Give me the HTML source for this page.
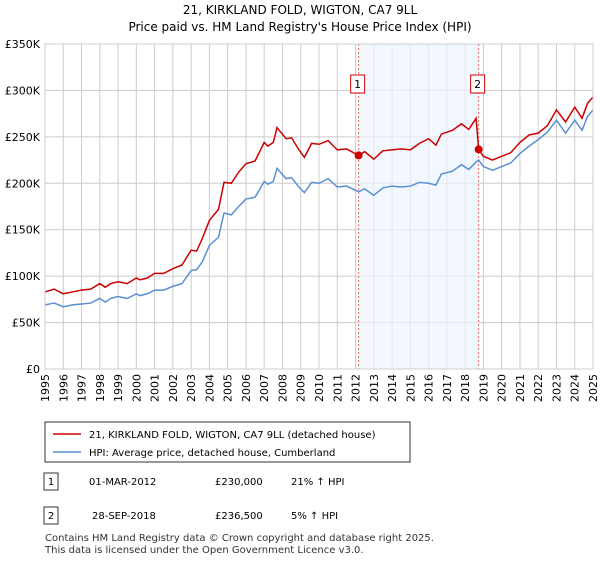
<!DOCTYPE html>
<html><head><meta charset="utf-8"><style>
body{margin:0;background:#fff;font-family:"Liberation Sans","DejaVu Sans",sans-serif;}
svg text{font-family:"DejaVu Sans","Liberation Sans",sans-serif;}
</style></head><body>
<svg width="600" height="560" viewBox="0 0 600 560">
<g id="title">
<text x="300" y="14" text-anchor="middle" font-size="12">21, KIRKLAND FOLD, WIGTON, CA7 9LL</text>
<text x="300" y="31" text-anchor="middle" font-size="12">Price paid vs. HM Land Registry's House Price Index (HPI)</text>
</g>
<g id="grid"></g>
<g id="shade"></g>
<g id="series"></g>
<g id="axes"></g>
<g>
<rect x="45" y="422" width="365" height="40" fill="#fff" stroke="#333"/>
<line x1="53" y1="434" x2="81" y2="434" stroke="#cc0000" stroke-width="1.5"/>
<text x="89" y="438" font-size="10">21, KIRKLAND FOLD, WIGTON, CA7 9LL (detached house)</text>
<line x1="53" y1="452" x2="81" y2="452" stroke="#5b8fd4" stroke-width="1.5"/>
<text x="89" y="456" font-size="10">HPI: Average price, detached house, Cumberland</text>
</g>
<g font-size="10">
<rect x="44" y="473" width="14" height="17" fill="#fff" stroke="#333"/>
<text x="51" y="485" text-anchor="middle">1</text>
<text x="89" y="485">01-MAR-2012</text><text x="215" y="485">£230,000</text><text x="291" y="485">21% ↑ HPI</text>
<rect x="44" y="507" width="14" height="17" fill="#fff" stroke="#333"/>
<text x="51" y="519" text-anchor="middle">2</text>
<text x="92" y="519">28-SEP-2018</text><text x="215" y="519">£236,500</text><text x="291" y="519">5% ↑ HPI</text>
</g>
<g font-size="10" fill="#333">
<text x="45" y="541">Contains HM Land Registry data © Crown copyright and database right 2025.</text>
<text x="45" y="553">This data is licensed under the Open Government Licence v3.0.</text>
</g>
</svg>
<script>
const years=[1995,1995.5,1996,1996.5,1997,1997.5,1998,1998.3,1998.6,1999,1999.5,2000,2000.2,2000.6,2001,2001.5,2002,2002.5,2003,2003.3,2003.6,2004,2004.5,2004.8,2005.2,2005.6,2006,2006.5,2007,2007.2,2007.5,2007.7,2008.2,2008.5,2008.9,2009.2,2009.6,2010,2010.5,2011,2011.5,2012.17,2012.5,2013,2013.5,2014,2014.5,2015,2015.5,2016,2016.4,2016.7,2017.3,2017.8,2018.2,2018.6,2018.74,2019,2019.5,2020,2020.5,2021,2021.5,2022,2022.5,2023,2023.5,2024,2024.4,2024.7,2025];
const hpi=[69,71,67,69,70,71,76,72,76,78,76,81,79,81,85,85,89,92,106,107,115,133,142,168,166,175,183,185,202,199,202,216,205,206,196,190,201,200,205,196,197,191,194,187,195,197,196,197,201,200,198,210,213,220,215,223,225,218,214,218,222,232,240,247,255,268,254,268,257,272,279];
const price=[83,86,81,83,85,86,92,88,92,94,92,98,96,98,103,103,108,112,128,127,140,160,172,201,200,212,221,224,244,240,244,260,248,249,236,228,243,242,246,236,237,230,234,226,235,236,237,236,243,248,241,253,257,264,258,270,236.5,229,225,229,233,244,252,254,262,279,266,282,270,286,293];
const yTicks=[0,50,100,150,200,250,300,350];
const yLabels=["£0","£50K","£100K","£150K","£200K","£250K","£300K","£350K"];
const sales=[2012.17,2018.74];
const saleVals=[230,236.5];
const NS="http://www.w3.org/2000/svg";
const X=y=>45+(y-1995)*(548/30), Y=v=>369-v*(325/350);
function mk(t,a,p){const e=document.createElementNS(NS,t);for(const k in a)e.setAttribute(k,a[k]);p.appendChild(e);return e;}
const grid=document.getElementById('grid'),axes=document.getElementById('axes'),ser=document.getElementById('series'),sh=document.getElementById('shade');
yTicks.forEach((v,i)=>{const l=mk('line',{x1:45,x2:593,y1:Y(v),y2:Y(v),stroke:'#ccc'},grid);

const t=mk('text',{x:40,y:Y(v)+4,'text-anchor':'end','font-size':11},axes);t.textContent=yLabels[i];
});
for(let y=1995;y<=2025;y++){const l=mk('line',{x1:X(y),x2:X(y),y1:44,y2:369,stroke:'#ccc'},grid);

const t=mk('text',{x:0,y:0,'font-size':11,'text-anchor':'end',transform:`translate(${X(y)+4},374) rotate(-90)`},axes);t.textContent=y;
}
const r=mk('rect',{x:X(sales[0]),y:44,width:X(sales[1])-X(sales[0]),height:325,fill:'#eef3fd',opacity:0.7},sh);

sales.forEach((s,i)=>{const l=mk('line',{x1:X(s),x2:X(s),y1:44,y2:369,stroke:'#e66','stroke-dasharray':'2,2'},sh);
});
const pb=mk('polyline',{points:years.map((y,i)=>X(y)+','+Y(hpi[i])).join(' '),fill:'none',stroke:'#5b8fd4','stroke-width':1.5},ser);

const pr=mk('polyline',{points:years.map((y,i)=>X(y)+','+Y(price[i])).join(' '),fill:'none',stroke:'#cc0000','stroke-width':1.5},ser);

sales.forEach((s,i)=>{const c=mk('circle',{cx:X(s),cy:Y(saleVals[i]),r:4,fill:'#cc0000'},ser);

const b=mk('rect',{x:X(s)-8,y:75,width:14,height:18,fill:'#fff',stroke:'#cc0000'},ser);

const t=mk('text',{x:X(s)-1,y:88,'text-anchor':'middle','font-size':11},ser);t.textContent=String(i+1);
});
const bx=mk('rect',{x:45,y:44,width:548,height:325,fill:'none',stroke:'#ccc'},axes);

</script>
</body></html>
